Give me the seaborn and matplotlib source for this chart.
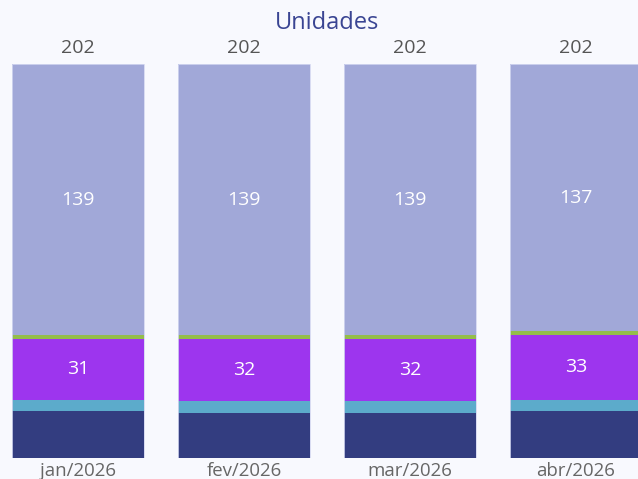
import matplotlib
matplotlib.use("Agg")
import matplotlib.pyplot as plt
import numpy as np
import pandas as pd
import seaborn as sns

# data (bottom -> top)
months = ["jan/2026", "fev/2026", "mar/2026", "abr/2026"]
navy = [24, 23, 23, 24]
light_blue = [6, 6, 6, 6]
purple = [31, 32, 32, 33]
green = [2, 2, 2, 2]
lavender = [139, 139, 139, 137]

series_names = ["navy", "light_blue", "purple", "green", "lavender"]
series_values = [navy, light_blue, purple, green, lavender]
colors = ["#333D80", "#5CABCB", "#9D35EE", "#94BD4A", "#A1A8D8"]
labelled = {"purple", "lavender"}

bg = "#F8F9FE"

sns.set_theme(style="white")
plt.rcParams["font.family"] = ["Open Sans", "DejaVu Sans"]

fig = plt.figure(figsize=(6.38, 4.79), dpi=100, facecolor=bg)
H = 479
W = 638
ax = fig.add_axes([0, (H - 458) / H, 1, 458 / H])
ax.set_facecolor(bg)

vals = np.array(series_values)
cum = vals.cumsum(axis=0)
totals = cum[-1]

px_per_unit = 393.7 / 202
ax.set_ylim(0, 458 / px_per_unit)

# draw cumulative bars from top layer down so each lower layer overlays
for i in range(len(series_names) - 1, -1, -1):
    df = pd.DataFrame({"month": months, "value": cum[i]})
    sns.barplot(data=df, x="month", y="value", color=colors[i], width=132 / 166,
                saturation=1, edgecolor="none", linewidth=0, ax=ax)

# outline of full bars
for j, t in enumerate(totals):
    ax.bar(j, t, width=132 / 166, fill=False, edgecolor="#D3D7F0", linewidth=0.6)

ax.set_xlim(-78 / 166, (638 - 78) / 166)

# segment labels
for i, name in enumerate(series_names):
    if name not in labelled:
        continue
    for j in range(len(months)):
        base = cum[i][j] - vals[i][j]
        ax.text(j, base + vals[i][j] / 2, str(vals[i][j]), ha="center", va="center",
                color="white", fontsize=14)

# totals
for j, t in enumerate(totals):
    ax.annotate(str(t), (j, t), xytext=(0, 5), textcoords="offset points",
                ha="center", va="bottom", fontsize=14, color="#555555")

ax.set_xlabel("")
ax.set_ylabel("")
ax.set_yticks([])
ax.tick_params(axis="x", length=0, pad=3, labelsize=13.4, labelcolor="#666666")
for s in ax.spines.values():
    s.set_visible(False)

fig.text(327.5 / W, 1 - 23 / H, "Unidades", ha="center", va="center",
         fontsize=17, color="#3A4593")

fig.savefig("out.png", dpi=100, facecolor=bg)
